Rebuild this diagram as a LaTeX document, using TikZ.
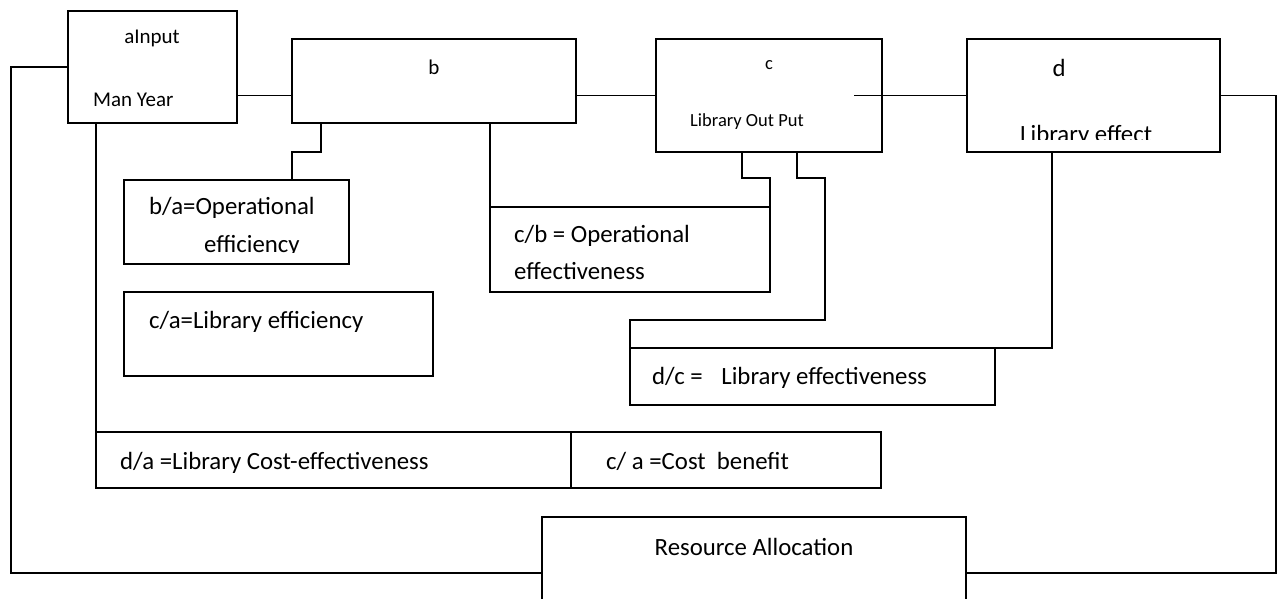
\documentclass[tikz,border=0pt]{standalone}
\usepackage{fontspec}
\setmainfont{Carlito}
\begin{document}
\begin{tikzpicture}[
    x=1pt, y=-1pt,
    box/.style={rectangle, draw, line width=1.8pt, inner sep=0pt, outer sep=0pt},
    txt/.style={inner sep=0pt, font=\fontsize{24.8}{29}\selectfont},
    head/.style={inner sep=0pt, font=\fontsize{21}{25}\selectfont},
    small/.style={inner sep=0pt, font=\fontsize{18.5}{22}\selectfont},
    link/.style={line width=1.8pt}
  ]
  \clip (0,0) rectangle (1281,599);

  % stages a, b, c, d
  \node[box, minimum width=169pt, minimum height=112pt] (a) at (152.5,67) {};
  \node[box, minimum width=284pt, minimum height=84pt] (b) at (434,81) {};
  \node[box, minimum width=226pt, minimum height=113pt] (c) at (769,95.5) {};
  \node[box, minimum width=253pt, minimum height=113pt] (d) at (1093.5,95.5) {};

  % ratio boxes
  \node[box, minimum width=225pt, minimum height=84pt] (ba) at (236.5,222) {};
  \node[box, minimum width=280pt, minimum height=85pt] (cb) at (630,249.5) {};
  \node[box, minimum width=309pt, minimum height=84pt] (ca) at (278.5,334) {};
  \node[box, minimum width=365pt, minimum height=57pt] (dc) at (812.5,376.5) {};
  \node[box, minimum width=475pt, minimum height=56pt] (da) at (333.5,460) {};
  \node[box, minimum width=310pt, minimum height=56pt] (cost) at (726,460) {};
  \node[box, minimum width=424pt, minimum height=143pt] (res) at (754,588.5) {};

  % texts
  \node[head] (aTop) at (152,38) {aInput};
  \node[head, anchor=west] (aBot) at (93,100) {Man Year};
  \node[head] (bTop) at (434,67) {b};
  \node[small] (cTop) at (769,65) {c};
  \node[small, anchor=west] (cBot) at (690,122) {Library Out Put};
  \node[txt] (dTop) at (1059,68) {d};
  \begin{scope}
    \clip (967,39) rectangle (1220,139.5);
    \node[txt, anchor=base west] (dBot) at (1020,142.5) {Library effect};
  \end{scope}
  \node[txt, anchor=west] (baTop) at (149,208) {b/a=Operational};
  \begin{scope}
    \clip (124,180) rectangle (349,252.5);
    \node[txt, anchor=base west] (baBot) at (204,252.5) {efficiency};
  \end{scope}
  \node[txt, anchor=west] (cbTop) at (514,236) {c/b = Operational};
  \node[txt, anchor=west] (cbBot) at (514,271) {effectiveness};
  \node[txt, anchor=west] (caTxt) at (149,322) {c/a=Library efficiency};
  \node[txt, anchor=west] (dcTxt) at (652,378) {d/c =\hspace{0.75em}Library effectiveness};
  \node[txt, anchor=base west] (daTxt) at (120,469) {d/a =Library Cost-effectiveness};
  \node[txt, anchor=base west] (costTxt) at (606,469) {c/ a =Cost~~benefit};
  \node[txt] (resTxt) at (754,547) {Resource Allocation};

  % connectors
  \coordinate (lowL) at (11,573);
  \coordinate (lowR) at (1276,573);
  \coordinate (cd) at (854,95.5);
  \draw[link] (a.west) -| (lowL) -- (lowL -| res.west);
  \draw[link] (d.east) -| (lowR) -- (lowR -| res.east);
  \draw[link] (a.east |- c.west) -- (b.west |- c.west);
  \draw[link] (b.east |- c.west) -- (c.west);
  \draw[link] (cd) -- (d.west);
  \draw[link] (a.south -| da.north west) -- (da.north west);
  \draw[link] ([xshift=-113pt]b.south) -- ++(0,29) -| ([xshift=55.5pt]ba.north);
  \draw[link] (cb.north west |- b.south) -- (cb.north west);
  \draw[link] ([xshift=-27pt]c.south) -- ++(0,26) -| (cb.north east);
  \draw[link] ([xshift=28pt]c.south) -- ++(0,26) -| ++(28,142) -| (dc.north west);
  \draw[link] ([xshift=-41.5pt]d.south) |- (dc.north east);
\end{tikzpicture}
\end{document}
